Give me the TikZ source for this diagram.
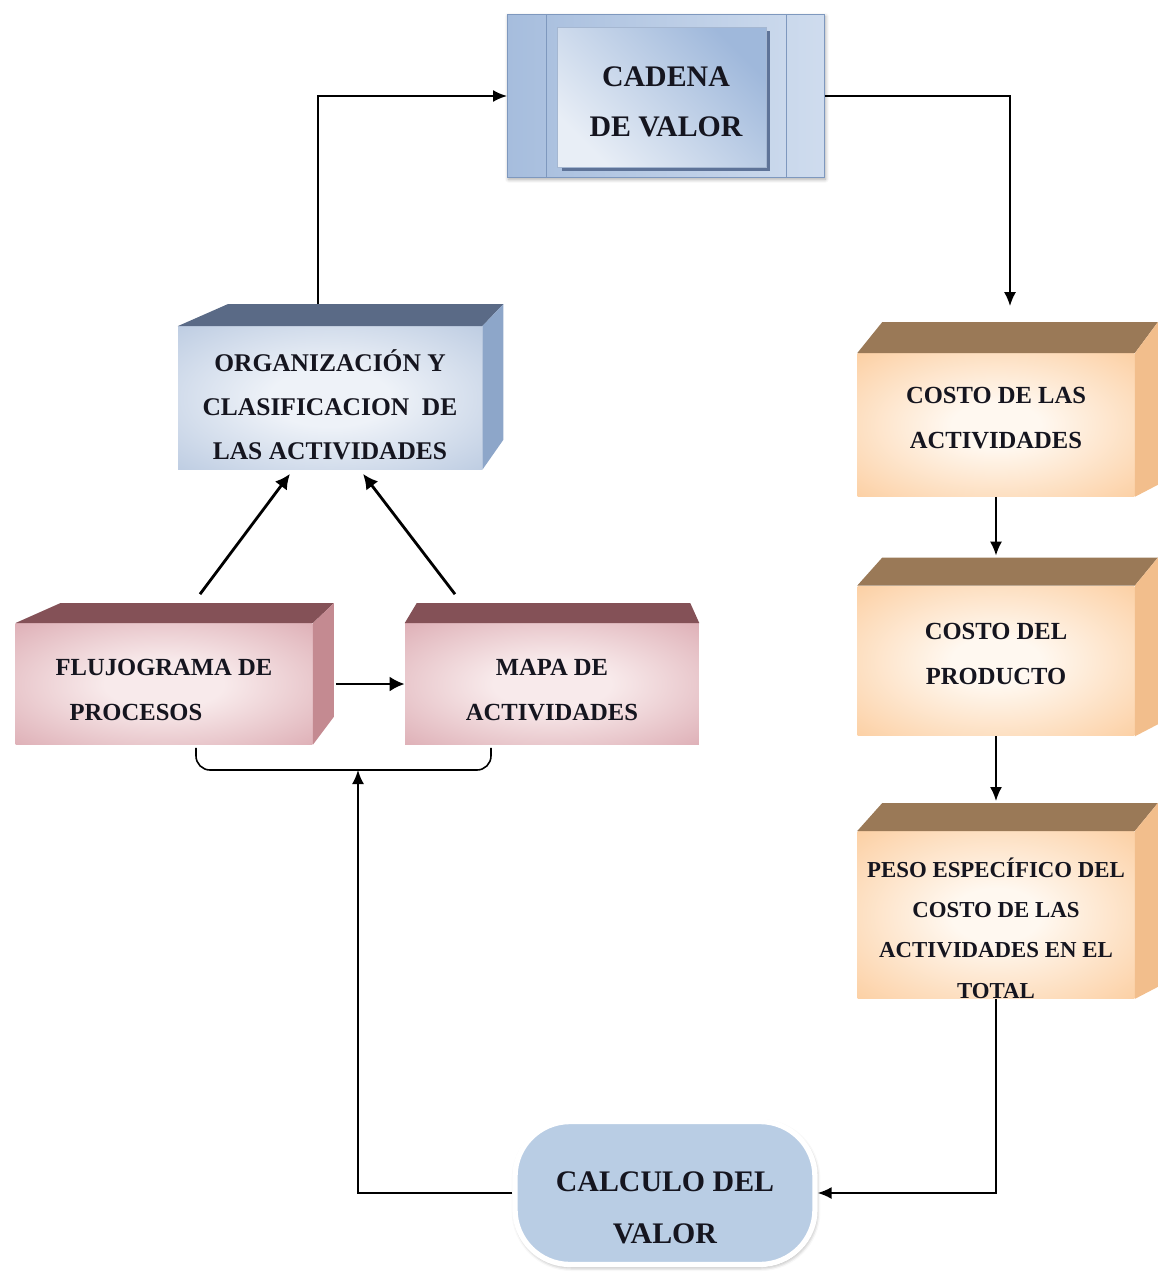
\documentclass[tikz,border=0pt]{standalone}
\usepackage{fontspec}
\setmainfont{Liberation Serif}
\usepackage{tikz}
\usetikzlibrary{arrows.meta,positioning,calc,shadows.blur}
\definecolor{txtosc}{HTML}{15151F}
\definecolor{rosaOsc}{HTML}{D0909A}
\definecolor{rosaClara}{HTML}{F8EAEB}
\definecolor{rosaTapa}{HTML}{845157}
\definecolor{rosaLado}{HTML}{C48A91}
\definecolor{azulOsc}{HTML}{A3B8D6}
\definecolor{azulClara}{HTML}{EEF2F8}
\definecolor{azulTapa}{HTML}{5A6A86}
\definecolor{azulLado}{HTML}{8DA6C9}
\definecolor{narOsc}{HTML}{FBC28A}
\definecolor{narClara}{HTML}{FFF8F0}
\definecolor{narTapa}{HTML}{9A7957}
\definecolor{narLado}{HTML}{F2BE8C}
\definecolor{cadOsc}{HTML}{A6BDDD}
\definecolor{cadClaro}{HTML}{CFDCEE}
\definecolor{cadBorde}{HTML}{7E98BE}
\definecolor{cadSombra}{HTML}{5E7398}
\definecolor{cadInA}{HTML}{9FB8DB}
\definecolor{cadInB}{HTML}{E8EEF6}
\definecolor{calcFondo}{HTML}{B9CDE4}
\pgfdeclareradialshading{sombrarosa}{\pgfpointorigin}{color(0bp)=(rosaClara); color(10bp)=(rosaClara); color(50bp)=(rosaOsc); color(75bp)=(rosaOsc)}
\pgfdeclareradialshading{sombraazul}{\pgfpointorigin}{color(0bp)=(azulClara); color(10bp)=(azulClara); color(50bp)=(azulOsc); color(75bp)=(azulOsc)}
\pgfdeclareradialshading{sombranar}{\pgfpointorigin}{color(0bp)=(narClara); color(8bp)=(narClara); color(45bp)=(narOsc); color(75bp)=(narOsc)}
% caras de las cajas 3D
\newcommand{\cajatapa}[5]{% nodo, color, dx izq, dx der, alto
  \fill[#2] (#1.north west) -- ++(#3,-#5) -- ($(#1.north east)+(#4,-#5)$) -- (#1.north east) -- cycle;}
\newcommand{\cajalado}[5]{% nodo, color, dx, alto arriba, alto abajo
  \fill[#2] (#1.north east) -- ++(#3,-#4) -- ($(#1.south east)+(#3,-#5)$) -- (#1.south east) -- cycle;}
% puntales para bajar o subir el texto
\newcommand{\bajar}[1]{\rule{0pt}{#1}}
\newcommand{\subir}[1]{\rule[-#1]{0pt}{#1}}
\tikzset{
  caja/.style     = {inner sep=0pt, align=center, text=txtosc},
  cajarosa/.style = {caja, shade, shading=sombrarosa,
                     font=\fontsize{14}{25.5}\selectfont\bfseries},
  cajaazul/.style = {caja, shade, shading=sombraazul,
                     font=\fontsize{14.5}{25}\selectfont\bfseries},
  cajanar/.style  = {caja, shade, shading=sombranar, minimum width=5.54cm,
                     font=\fontsize{14}{25.5}\selectfont\bfseries},
  cadena/.style   = {caja, minimum width=6.34cm, minimum height=3.26cm,
                     left color=cadOsc, right color=cadClaro, draw=cadBorde,
                     line width=0.6pt, font=\fontsize{17}{28.5}\selectfont\bfseries,
                     blur shadow={shadow xshift=0.5pt, shadow yshift=-1pt,
                                  shadow blur radius=2pt, shadow opacity=35},
                     path picture={
                       \draw[cadBorde, line width=0.8pt]
                         ([xshift=-2.39cm]path picture bounding box.north) --
                         ([xshift=-2.39cm]path picture bounding box.south);
                       \draw[cadBorde, line width=0.8pt]
                         ([xshift=2.41cm]path picture bounding box.north) --
                         ([xshift=2.41cm]path picture bounding box.south);
                       \fill[cadSombra]
                         ([shift={(-2.08cm,1.30cm)}]path picture bounding box.center) rectangle
                         ([shift={(2.09cm,-1.50cm)}]path picture bounding box.center);
                       \shade[top color=cadInA, bottom color=cadInB, shading angle=-45,
                              draw=cadBorde!70, line width=0.5pt]
                         ([shift={(-2.17cm,1.37cm)}]path picture bounding box.center) rectangle
                         ([shift={(2.01cm,-1.43cm)}]path picture bounding box.center);
                     }},
  valor/.style    = {caja, minimum width=6cm, minimum height=2.86cm,
                     rounded corners=1.1cm, fill=calcFondo, draw=white, line width=3pt,
                     blur shadow={shadow xshift=0.6pt, shadow yshift=-1.2pt,
                                  shadow blur radius=2.5pt, shadow opacity=45},
                     font=\fontsize{17}{29.5}\selectfont\bfseries},
  flecha/.style   = {-{Latex[length=2.8mm,width=2.4mm]}, line width=1.1pt},
  flechagr/.style = {-{Latex[length=3mm,width=3mm]}, line width=1.6pt},
  union/.style    = {line width=0.9pt, rounded corners=8pt},
}
\begin{document}
\begin{tikzpicture}[x=0.02cm,y=-0.02cm]
\useasboundingbox (0,0) rectangle (1158,1272);

% parte superior
\node[cadena] (cad) at (666,96) {\bajar{18pt}CADENA\\DE VALOR};

% columna izquierda
\node[cajaazul, minimum width=6.08cm, minimum height=2.86cm] (org) at (330,398)
  {\bajar{20pt}ORGANIZACIÓN Y\\CLASIFICACION\ \ DE\\LAS ACTIVIDADES};
\cajatapa{org}{azulTapa}{50}{21}{22}
\cajalado{org}{azulLado}{21}{22}{30}

\node[cajarosa, minimum width=5.94cm, minimum height=2.42cm, align=left] (flujo) at (164,684)
  {\bajar{16pt}FLUJOGRAMA DE\\\hspace*{0.28cm}PROCESOS};
\cajatapa{flujo}{rosaTapa}{45}{21}{20}
\cajalado{flujo}{rosaLado}{21}{20}{28}

\node[cajarosa, minimum width=5.88cm, minimum height=2.42cm] (mapa) at (552,684)
  {\bajar{16pt}MAPA DE\\ACTIVIDADES};
\cajatapa{mapa}{rosaTapa}{12}{-9}{20}

% columna derecha
\node[cajanar, minimum height=2.86cm] (cos1) at (996,425)
  {COSTO DE LAS\\ACTIVIDADES\subir{8pt}};
\cajatapa{cos1}{narTapa}{25}{23}{31}
\cajalado{cos1}{narLado}{23}{31}{12}

\node[cajanar, minimum height=3cm] (cos2) at (996,661)
  {COSTO DEL\\PRODUCTO\subir{8pt}};
\cajatapa{cos2}{narTapa}{25}{23}{28}
\cajalado{cos2}{narLado}{23}{28}{12}

\node[cajanar, minimum height=3.28cm, font=\fontsize{13}{23}\selectfont\bfseries] (peso) at (996,915)
  {\bajar{26pt}PESO ESPECÍFICO DEL\\COSTO DE LAS\\ACTIVIDADES EN EL\\TOTAL};
\cajatapa{peso}{narTapa}{25}{23}{28}
\cajalado{peso}{narLado}{23}{28}{12}

\node[valor] (calc) at (665,1193) {\bajar{28pt}CALCULO DEL\\VALOR};

% conectores
\coordinate (br) at (358,770);
\draw[flecha] ([shift={(-12,-22)}]org.north) |- (cad.west);
\draw[flecha] (cad.east) -| ([shift={(14,-47)}]cos1.north);
\draw[flecha] (cos1.south) -- ([shift={(0,-30)}]cos2.north);
\draw[flecha] (cos2.south) -- ([shift={(0,-30)}]peso.north);
\draw[flecha] (peso.south) |- (calc.east);
\draw[union] ([shift={(32,3)}]flujo.south) |- (br) -| ([shift={(-61,3)}]mapa.south);
\draw[flecha] (calc.west) -| (br);
\draw[flechagr] ([shift={(36,-29)}]flujo.north) -- ([shift={(-40,4)}]org.south);
\draw[flechagr] ([shift={(-97,-29)}]mapa.north) -- ([shift={(33,4)}]org.south);
\draw[flechagr] ([shift={(23,0)}]flujo.east) -- (mapa.west);
\end{tikzpicture}
\end{document}
